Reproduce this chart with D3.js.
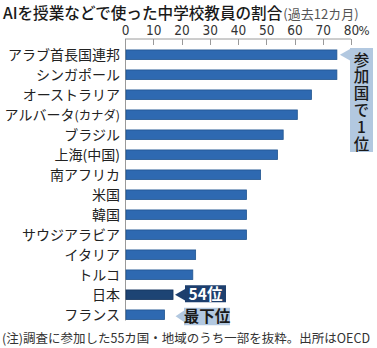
<!DOCTYPE html>
<html>
<head>
<meta charset="utf-8">
<script src="https://cdn.jsdelivr.net/npm/d3@7"></script>
<style>
  html, body { margin: 0; padding: 0; background: #fff; }
  svg { display: block; font-family: "Noto Sans CJK JP", "Noto Sans", sans-serif; }
</style>
</head>
<body>
<svg id="chart" width="377" height="348"></svg>
<script>
// Share of lower-secondary teachers who used AI in class (past 12 months), %
const countries = [
  "アラブ首長国連邦", "シンガポール", "オーストラリア", "アルバータ(カナダ)",
  "ブラジル", "上海(中国)", "南アフリカ", "米国", "韓国", "サウジアラビア",
  "イタリア", "トルコ", "日本", "フランス"
];
const shares = [75, 75, 66, 61, 56, 54, 48, 43, 43, 43, 25, 24, 17, 14];
const tickValues = [0, 10, 20, 30, 40, 50, 60, 70, 80];
const highlight = "日本";

const svg = d3.select("#chart");

const x = d3.scaleLinear().domain([0, 80]).range([125, 351]);
const y = d3.scaleBand()
  .domain(countries)
  .range([44.75, 324.75])
  .paddingInner(0.52)
  .paddingOuter(0.26);

// Title
const title = svg.append("text")
  .attr("x", 3).attr("y", 19)
  .attr("fill", "#1a1a1a")
  .style("font-size", "15.6px")
  .style("font-weight", 500);
title.append("tspan").text("AIを授業などで使った中学校教員の割合");
title.append("tspan")
  .attr("fill", "#555")
  .style("font-size", "13px")
  .style("font-weight", 400)
  .attr("dx", 1)
  .text("(過去12カ月)");

// Top axis
const axisY = 39;
const numFont = "'Liberation Sans Narrow', 'DejaVu Sans Condensed', 'Roboto', sans-serif";
const axis = d3.axisTop(x)
  .tickValues(tickValues)
  .tickSize(0)
  .tickPadding(4)
  .tickFormat(d => d);
const ag = svg.append("g").attr("transform", `translate(0,${axisY})`);
ag.call(axis);
ag.select(".domain").remove();
ag.selectAll("text")
  .attr("fill", "#333")
  .style("font-size", "13.5px")
  .style("font-family", numFont);
// percent sign after the last tick label
ag.append("text")
  .attr("x", x(80) + 7.5).attr("y", -4)
  .attr("text-anchor", "start")
  .attr("fill", "#333")
  .style("font-size", "13px")
  .style("font-family", numFont)
  .text("%");

// axis rule and ticks hanging down
svg.append("line")
  .attr("x1", x(0)).attr("x2", x(80))
  .attr("y1", axisY).attr("y2", axisY)
  .attr("stroke", "#9a9a9a").attr("stroke-width", 1);
svg.selectAll("line.tick")
  .data(tickValues)
  .join("line")
  .attr("class", "tick")
  .attr("x1", d => Math.round(x(d)) + 0.5).attr("x2", d => Math.round(x(d)) + 0.5)
  .attr("y1", axisY).attr("y2", axisY + 6)
  .attr("stroke", "#9a9a9a");
// baseline
svg.append("line")
  .attr("x1", x(0) + 0.5).attr("x2", x(0) + 0.5)
  .attr("y1", axisY).attr("y2", y(countries[countries.length - 1]) + y.bandwidth() + 1)
  .attr("stroke", "#9a9a9a");

// Bars
svg.selectAll("rect.bar")
  .data(countries)
  .join("rect")
  .attr("class", "bar")
  .attr("x", x(0) + 1)
  .attr("y", d => y(d))
  .attr("width", (d, i) => x(shares[i]) - x(0) - 1)
  .attr("height", y.bandwidth())
  .attr("fill", d => d === highlight ? "#1d4474" : "#2e69b1")
  .attr("stroke", d => d === highlight ? "#15345c" : "#22558f")
  .attr("stroke-width", 0.8);

// Category labels; the parenthesised part is set a little smaller
svg.selectAll("text.cat")
  .data(countries)
  .join("text")
  .attr("class", "cat")
  .attr("x", 120)
  .attr("y", d => y(d) + y.bandwidth() / 2 + 5.3)
  .attr("text-anchor", "end")
  .attr("fill", "#222")
  .style("font-size", "14px")
  .each(function (d) {
    const t = d3.select(this);
    const m = d.match(/^(.*?)(\(.*\))$/);
    if (m && d.startsWith("アルバータ")) {
      t.append("tspan").text(m[1]);
      t.append("tspan").style("font-size", "12.4px").text(m[2]);
    } else {
      t.text(d);
    }
  });

// Callout helper: box with left-pointing arrow
function callout(tipX, tipY, bx, by, bw, bh, fill) {
  const g = svg.append("g");
  g.append("rect").attr("x", bx).attr("y", by).attr("width", bw).attr("height", bh).attr("fill", fill);
  g.append("path")
    .attr("d", `M${tipX},${tipY} L${bx + 0.5},${tipY - 6} L${bx + 0.5},${tipY + 6} Z`)
    .attr("fill", fill);
  return g;
}

// Top-ranked annotation (vertical)
const iTop = 0;
const topY = y(countries[iTop]) + y.bandwidth() / 2;
callout(x(shares[iTop]) + 3, topY, 350, 48, 23, 104, "#b2c8e0");
svg.append("text")
  .attr("x", 361.5).attr("y", 52)
  .attr("fill", "#1a1a1a")
  .style("font-size", "15.5px")
  .style("font-weight", 500)
  .style("writing-mode", "vertical-rl")
  .style("text-orientation", "upright")
  .style("letter-spacing", "1.3px")
  .text("参加国で1位");

// Japan annotation
const iJp = countries.indexOf(highlight);
const jpY = y(highlight) + y.bandwidth() / 2;
callout(x(shares[iJp]) + 2, jpY, 185, jpY - 9.5, 41, 17, "#1d3f6e");
svg.append("text")
  .attr("x", 205.5).attr("y", jpY + 5.5)
  .attr("text-anchor", "middle")
  .attr("fill", "#fff")
  .style("font-size", "15.5px")
  .style("font-weight", 700)
  .text("54位");

// Lowest-ranked annotation
const iLast = countries.length - 1;
const lastY = y(countries[iLast]) + y.bandwidth() / 2;
callout(x(shares[iLast]) + 11, lastY + 1.5, 184, lastY - 7, 46, 17.5, "#b2c8e0");
svg.append("text")
  .attr("x", 207).attr("y", lastY + 7.5)
  .attr("text-anchor", "middle")
  .attr("fill", "#1a1a1a")
  .style("font-size", "15.5px")
  .style("font-weight", 700)
  .text("最下位");

// Footnote
svg.append("text")
  .attr("x", 2).attr("y", 343)
  .attr("fill", "#333")
  .style("font-size", "12.5px")
  .text("(注)調査に参加した55カ国・地域のうち一部を抜粋。出所はOECD");
</script>
</body>
</html>
